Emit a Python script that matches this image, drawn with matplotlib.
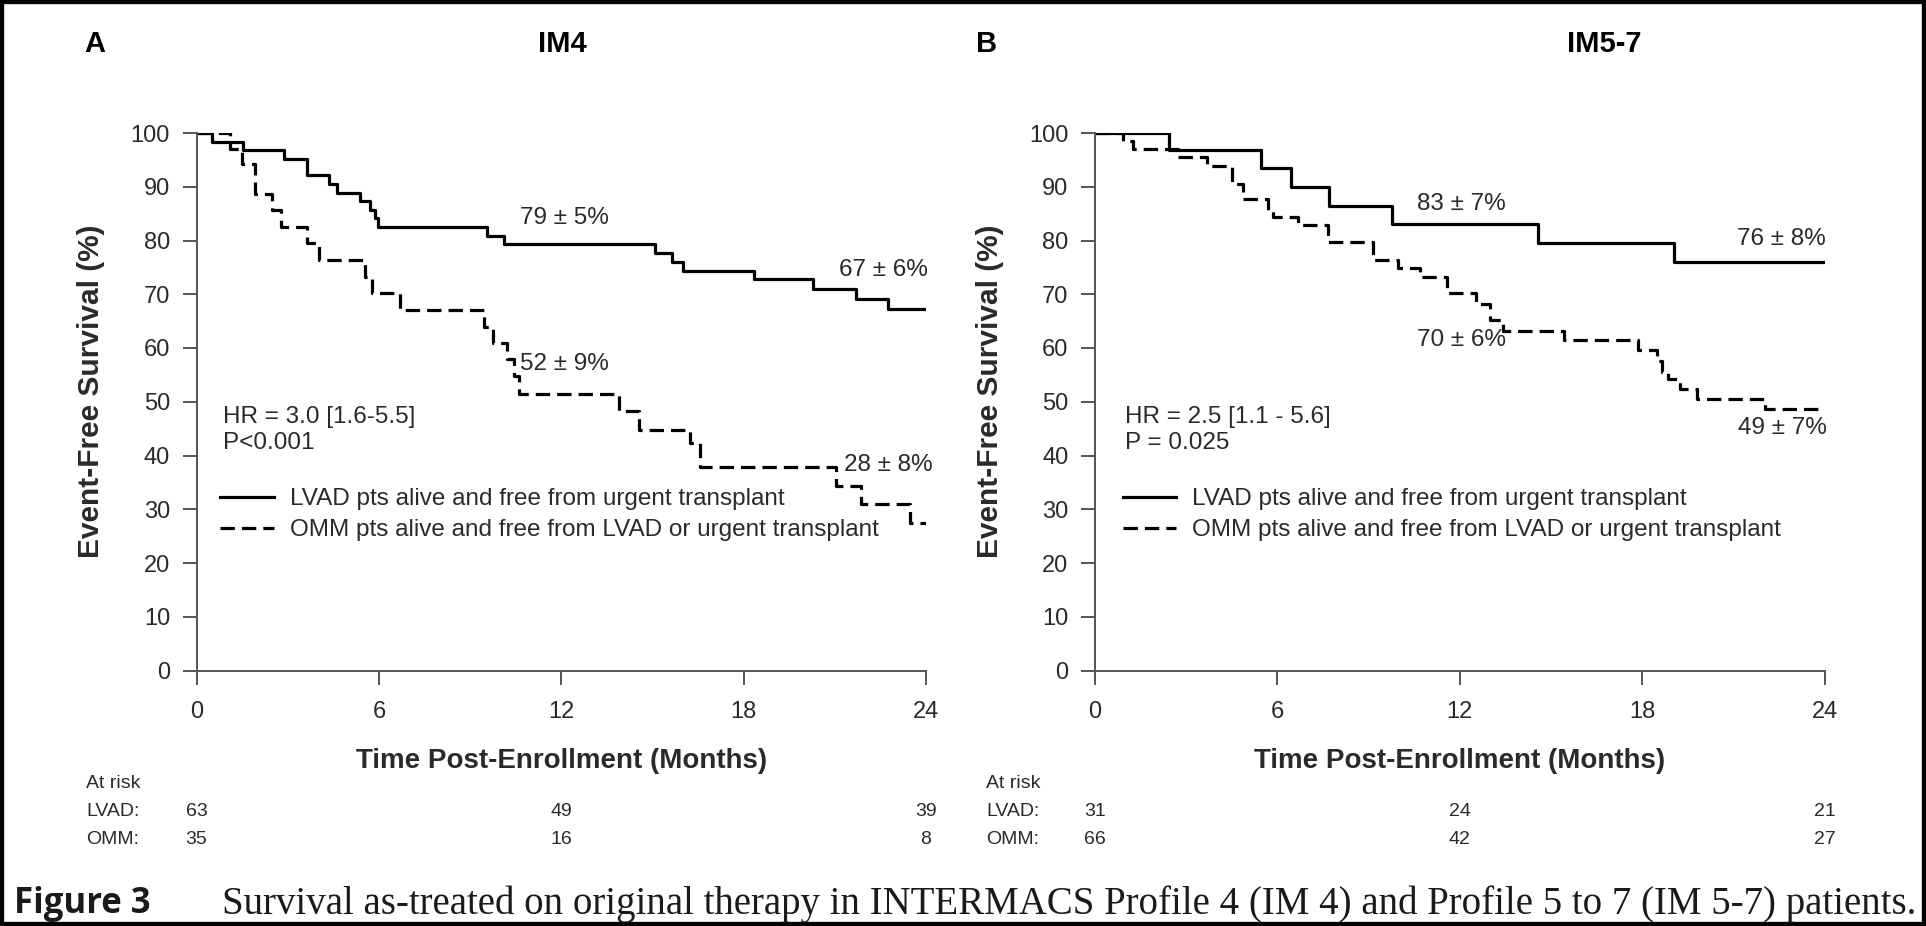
import matplotlib
matplotlib.use('Agg')
import matplotlib.pyplot as plt
from matplotlib.lines import Line2D
from matplotlib.patches import Rectangle
from matplotlib.transforms import blended_transform_factory

plt.rcParams['font.family'] = ['Liberation Sans', 'DejaVu Sans']

# ---- data (months, % event-free) ----
# panel A, IM4
a_lvad_t = [0, 0.5, 1.54, 2.89, 3.65, 4.37, 4.61, 5.38, 5.71, 5.87, 5.98, 9.55, 10.12,
            15.07, 15.66, 16.0, 18.35, 20.28, 21.7, 22.76]
a_lvad_s = [100, 98.4, 96.8, 95.2, 92.1, 90.5, 88.9, 87.3, 85.7, 84.1, 82.5, 80.9, 79.3,
            77.6, 76.0, 74.4, 72.8, 71.0, 69.1, 67.3]
a_omm_t = [0, 1.10, 1.49, 1.92, 2.47, 2.77, 3.64, 4.04, 5.54, 5.76, 6.69, 9.45, 9.75,
           10.2, 10.45, 10.6, 13.9, 14.57, 16.25, 16.58, 21.03, 21.87, 23.46]
a_omm_s = [100, 97.1, 94.3, 88.6, 85.7, 82.6, 79.6, 76.3, 73.3, 70.2, 67.1, 64.0, 61.0,
           57.9, 54.7, 51.5, 48.2, 44.7, 42.3, 37.9, 34.4, 31.0, 27.5]

# panel B, IM5-7
b_lvad_t = [0, 2.43, 5.45, 6.44, 7.70, 9.78, 14.58, 19.05]
b_lvad_s = [100, 96.8, 93.4, 90.0, 86.5, 83.1, 79.6, 76.0]
b_omm_t = [0, 0.93, 1.26, 2.74, 3.67, 4.50, 4.88, 5.70, 5.85, 6.69, 7.68, 9.16, 9.98,
           10.69, 11.57, 12.55, 13.0, 13.43, 15.44, 17.86, 18.5, 18.64, 18.85, 19.23,
           19.79, 22.04]
b_omm_s = [100, 98.5, 97.0, 95.5, 93.9, 90.6, 87.8, 85.7, 84.4, 82.9, 79.7, 76.4, 74.8,
           73.3, 70.2, 68.1, 65.2, 63.1, 61.4, 59.6, 57.5, 55.6, 54.2, 52.3,
           50.6, 48.6]

a_notes = [(12.1, 84.1, '79 ± 5%'), (22.6, 74.5, '67 ± 6%'),
           (12.1, 57.1, '52 ± 9%'), (22.75, 38.2, '28 ± 8%')]
b_notes = [(12.06, 86.7, '83 ± 7%'), (22.57, 80.2, '76 ± 8%'),
           (12.07, 61.5, '70 ± 6%'), (22.6, 45.2, '49 ± 7%')]

a_stats = ['HR = 3.0 [1.6-5.5]', 'P<0.001']
b_stats = ['HR = 2.5 [1.1 - 5.6]', 'P = 0.025']

risk_times = [0, 12, 24]
a_risk_lvad = [63, 49, 39]
a_risk_omm = [35, 16, 8]
b_risk_lvad = [31, 24, 21]
b_risk_omm = [66, 42, 27]

legend_labels = ['LVAD pts alive and free from urgent transplant',
                 'OMM pts alive and free from LVAD or urgent transplant']

W, H = 1926, 926
fig = plt.figure(figsize=(W / 100, H / 100), dpi=100)

TXT = '#2a2a2a'
AX = '#555555'
DASH = (4.5, 2.2)


def panel(left, lvad_t, lvad_s, omm_t, omm_s, notes, stats, stat_x, risk_l, risk_o, leg_x):
    ax = fig.add_axes([left / W, 1 - 670.5 / H, 729.5 / W, 537.5 / H])
    ax.step(lvad_t + [24], lvad_s + [lvad_s[-1]], where='post', color='black', lw=2.3)
    ax.step(omm_t + [24], omm_s + [omm_s[-1]], where='post', color='black', lw=2.3,
            dashes=DASH)
    ax.set_xlim(0, 24)
    ax.set_ylim(0, 100)
    ax.set_xticks([0, 6, 12, 18, 24])
    ax.set_yticks(range(0, 101, 10))
    for s in ['top', 'right']:
        ax.spines[s].set_visible(False)
    for s in ['left', 'bottom']:
        ax.spines[s].set_color(AX)
        ax.spines[s].set_linewidth(1.4)
    ax.tick_params(direction='out', length=10, width=1.4, color=AX, labelsize=17,
                   labelcolor=TXT)
    ax.tick_params(axis='x', pad=12)
    ax.tick_params(axis='y', pad=9)
    ax.set_xlabel('Time Post-Enrollment (Months)', fontsize=20, fontweight='bold', color=TXT)
    ax.xaxis.set_label_coords(0.5, -0.145)
    ax.set_ylabel('Event-Free Survival (%)', fontsize=21.5, fontweight='bold', color=TXT)
    ax.yaxis.set_label_coords(-0.125, 0.52)
    for x, y, t in notes:
        ax.text(x, y, t, ha='center', va='center', fontsize=17.5, color=TXT)
    ax.text(stat_x, 47.1, stats[0], ha='left', va='center', fontsize=17.5, color=TXT)
    ax.text(stat_x, 42.3, stats[1], ha='left', va='center', fontsize=17.5, color=TXT)
    handles = [Line2D([], [], color='black', lw=2.3),
               Line2D([], [], color='black', lw=2.3, dashes=DASH)]
    leg = ax.legend(handles, legend_labels, loc='upper left', bbox_to_anchor=(leg_x, 0.339),
                    frameon=False, fontsize=17.5, handlelength=2.2, handletextpad=0.65,
                    borderpad=0, borderaxespad=0, labelspacing=0.36)
    for t in leg.get_texts():
        t.set_color(TXT)
    # at-risk table: numbers sit under the time ticks
    tr = blended_transform_factory(ax.transData, fig.transFigure)
    for x, n1, n2 in zip(risk_times, risk_l, risk_o):
        ax.text(x, 1 - 812 / H, str(n1), transform=tr, ha='center', va='center',
                fontsize=14, color=TXT)
        ax.text(x, 1 - 839 / H, str(n2), transform=tr, ha='center', va='center',
                fontsize=14, color=TXT)
    return ax


panel(196.5, a_lvad_t, a_lvad_s, a_omm_t, a_omm_s, a_notes, a_stats, 0.87,
      a_risk_lvad, a_risk_omm, 0.0328)
panel(1095, b_lvad_t, b_lvad_s, b_omm_t, b_omm_s, b_notes, b_stats, 1.0,
      b_risk_lvad, b_risk_omm, 0.038)

# panel letters and titles
for x, s in [(95, 'A'), (562, 'IM4'), (987, 'B'), (1604, 'IM5-7')]:
    fig.text(x / W, 1 - 44 / H, s, ha='center', va='center', fontsize=21,
             fontweight='bold', color='black')

# at-risk row labels
for x0 in [86, 986]:
    fig.text(x0 / W, 1 - 783 / H, 'At risk', ha='left', va='center', fontsize=14, color=TXT)
    fig.text(x0 / W, 1 - 812 / H, 'LVAD:', ha='left', va='center', fontsize=14, color=TXT)
    fig.text(x0 / W, 1 - 839 / H, 'OMM:', ha='left', va='center', fontsize=14, color=TXT)

# caption
fig.text(14 / W, 1 - 904 / H, 'Figure 3', ha='left', va='center', fontsize=25,
         fontweight='bold', family=['Open Sans', 'DejaVu Sans'], color='#1a1a1a')
fig.text(222 / W, 1 - 904 / H,
         'Survival as-treated on original therapy in INTERMACS Profile 4 (IM 4) and '
         'Profile 5 to 7 (IM 5-7) patients.',
         ha='left', va='center', fontsize=28, family=['Liberation Serif', 'DejaVu Serif'],
         color='#1a1a1a')

# outer frame
fig.patches.append(Rectangle((0, 0), 1, 1, transform=fig.transFigure, fill=False,
                             edgecolor='black', lw=6))

fig.savefig('out.png', dpi=100)
